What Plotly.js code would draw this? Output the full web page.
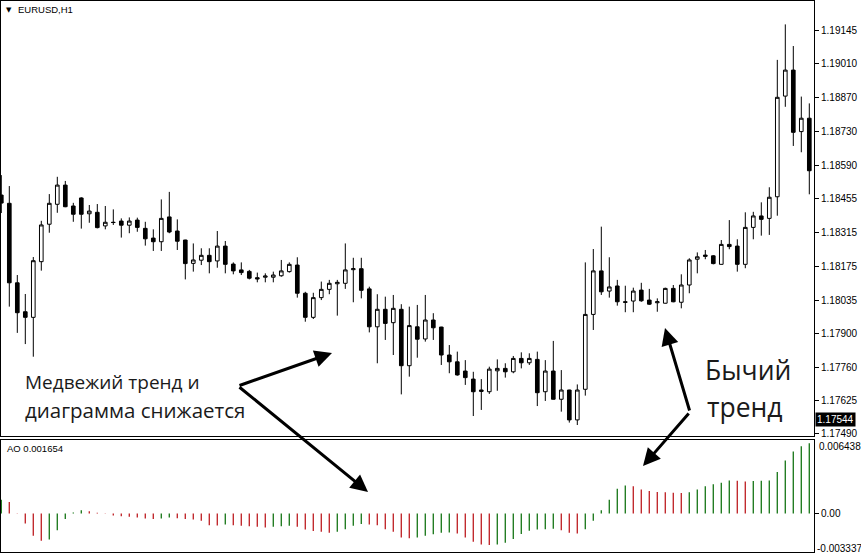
<!DOCTYPE html>
<html>
<head>
<meta charset="utf-8">
<script src="https://cdn.plot.ly/plotly-3.0.1.min.js"></script>
<style>html,body{margin:0;padding:0;background:#fff;}#chart{width:861px;height:553px;}</style>
</head>
<body>
<div id="chart"></div>
<script>
// ---- EURUSD H1 candles ----
const opens = [1.18469,1.18435,1.18108,1.17989,1.17966,1.18195,1.18349,1.18431,1.18510,1.18424,
1.18457,1.18392,1.18398,1.18342,1.18357,1.18362,1.18345,1.18366,1.18332,1.18292,
1.18277,1.18379,1.18321,1.18284,1.18188,1.18201,1.18221,1.18198,1.18259,1.18185,
1.18161,1.18155,1.18129,1.18131,1.18131,1.18137,1.18154,1.18181,1.18065,1.17966,
1.18047,1.18081,1.18104,1.18106,1.18162,1.18166,1.18083,1.17927,1.17999,1.17944,
1.17999,1.17767,1.17927,1.17877,1.17955,1.17926,1.17811,1.17783,1.17745,1.17712,
1.17661,1.17660,1.17746,1.17756,1.17742,1.17797,1.17779,1.17793,1.17660,1.17745,
1.17629,1.17667,1.17544,1.17670,1.17978,1.18157,1.18074,1.18095,1.18030,1.18033,
1.18078,1.18037,1.18026,1.18024,1.18085,1.18028,1.18099,1.18205,1.18222,1.18219,
1.18184,1.18266,1.18259,1.18184,1.18336,1.18383,1.18373,1.18462,1.18876,1.18983,
1.18730,1.18785];
const highs = [1.18551,1.18506,1.18140,1.18062,1.18214,1.18363,1.18473,1.18544,1.18527,1.18437,
1.18460,1.18428,1.18432,1.18424,1.18410,1.18373,1.18377,1.18376,1.18359,1.18328,
1.18451,1.18482,1.18369,1.18285,1.18270,1.18250,1.18250,1.18321,1.18280,1.18192,
1.18192,1.18161,1.18150,1.18147,1.18154,1.18202,1.18192,1.18213,1.18071,1.18067,
1.18113,1.18120,1.18120,1.18270,1.18211,1.18211,1.18092,1.18061,1.18051,1.18058,
1.18020,1.18010,1.18017,1.18058,1.17983,1.17927,1.17852,1.17825,1.17790,1.17742,
1.17712,1.17763,1.17793,1.17777,1.17807,1.17822,1.17818,1.17825,1.17790,1.17869,
1.17749,1.17668,1.17690,1.18192,1.18247,1.18339,1.18213,1.18120,1.18096,1.18088,
1.18108,1.18083,1.18044,1.18088,1.18099,1.18143,1.18209,1.18233,1.18243,1.18222,
1.18284,1.18366,1.18287,1.18398,1.18400,1.18439,1.18501,1.19025,1.19171,1.19082,
1.18874,1.18846];
const lows = [1.18395,1.18010,1.17902,1.17856,1.17804,1.18158,1.18314,1.18396,1.18419,1.18359,
1.18331,1.18355,1.18332,1.18328,1.18346,1.18294,1.18312,1.18318,1.18261,1.18239,
1.18239,1.18312,1.18243,1.18122,1.18154,1.18181,1.18147,1.18170,1.18147,1.18143,
1.18140,1.18122,1.18110,1.18110,1.18110,1.18133,1.18150,1.18047,1.17948,1.17959,
1.18037,1.18061,1.17973,1.18083,1.18028,1.18044,1.17904,1.17777,1.17873,1.17811,
1.17649,1.17722,1.17800,1.17866,1.17873,1.17770,1.17736,1.17726,1.17688,1.17560,
1.17585,1.17651,1.17664,1.17718,1.17736,1.17756,1.17770,1.17601,1.17622,1.17628,
1.17578,1.17533,1.17523,1.17644,1.17914,1.18058,1.18047,1.18014,1.17987,1.17987,
1.18030,1.18017,1.17989,1.18023,1.18028,1.18003,1.18065,1.18147,1.18205,1.18184,
1.18183,1.18246,1.18154,1.18168,1.18287,1.18302,1.18305,1.18384,1.18832,1.18671,
1.18645,1.18472];
const closes = [1.18436,1.18108,1.17985,1.17966,1.18199,1.18346,1.18435,1.18510,1.18421,1.18390,
1.18390,1.18403,1.18335,1.18357,1.18356,1.18345,1.18362,1.18336,1.18289,1.18277,
1.18373,1.18317,1.18279,1.18187,1.18202,1.18221,1.18195,1.18259,1.18184,1.18157,
1.18150,1.18127,1.18124,1.18136,1.18140,1.18157,1.18184,1.18065,1.17966,1.18047,
1.18081,1.18106,1.18110,1.18161,1.18166,1.18077,1.17927,1.17999,1.17941,1.18003,
1.17767,1.17932,1.17876,1.17955,1.17923,1.17811,1.17783,1.17729,1.17718,1.17660,
1.17667,1.17753,1.17756,1.17742,1.17797,1.17779,1.17797,1.17656,1.17745,1.17629,
1.17667,1.17544,1.17667,1.17978,1.18157,1.18071,1.18091,1.18030,1.18028,1.18074,
1.18034,1.18020,1.18030,1.18085,1.18030,1.18099,1.18202,1.18215,1.18217,1.18187,
1.18266,1.18257,1.18184,1.18336,1.18383,1.18369,1.18460,1.18871,1.18983,1.18727,
1.18785,1.18569];

// ---- Awesome Oscillator values ----
const aoValues = [0.00122,0.00102,0.00003,-0.00087,-0.00195,-0.00239,-0.00227,-0.00146,-0.00049,0.00009,
0.00029,0.00020,0.00006,-0.00003,-0.00017,-0.00023,-0.00029,-0.00035,-0.00044,-0.00049,
-0.00044,-0.00035,-0.00041,-0.00049,-0.00052,-0.00064,-0.00102,-0.00105,-0.00096,-0.00102,
-0.00108,-0.00111,-0.00116,-0.00122,-0.00116,-0.00111,-0.00108,-0.00116,-0.00140,-0.00154,
-0.00160,-0.00169,-0.00160,-0.00137,-0.00108,-0.00093,-0.00096,-0.00102,-0.00137,-0.00160,
-0.00210,-0.00218,-0.00210,-0.00195,-0.00183,-0.00169,-0.00166,-0.00175,-0.00210,-0.00247,
-0.00271,-0.00276,-0.00271,-0.00256,-0.00224,-0.00180,-0.00151,-0.00140,-0.00137,-0.00134,
-0.00146,-0.00169,-0.00175,-0.00137,-0.00064,0.00029,0.00122,0.00218,0.00247,0.00239,
0.00212,0.00198,0.00189,0.00186,0.00183,0.00180,0.00186,0.00210,0.00239,0.00256,
0.00271,0.00291,0.00288,0.00282,0.00285,0.00288,0.00291,0.00364,0.00466,0.00544,
0.00591,0.00617];

// ---- tick labels ----
const priceTicks = [1.19145,1.19010,1.18870,1.18730,1.18590,1.18455,1.18315,1.18175,1.18035,1.17900,1.17760,1.17625,1.17490];
const priceTickText = ["1.19145","1.19010","1.18870","1.18730","1.18590","1.18455","1.18315","1.18175","1.18035","1.17900","1.17760","1.17625","1.17490"];
const currentPrice = 1.17544;
const aoMax = "0.006438", aoMin = "-0.003337", aoCurrent = "AO 0.001654";
const symbolTitle = "EURUSD,H1";

const idx = opens.map((_, i) => i);
const timeTicks = idx.filter(i => i % 8 === 0);
const aoColors = aoValues.map((v, i) => (i === 0 || v >= aoValues[i - 1]) ? '#1f7a1f' : '#c0262b');

const W = 861, H = 553, ML = 1, MR = 47, MT = 1, MB = 1;
const PW = W - ML - MR, PH = H - MT - MB;
const px = x => (x - ML) / PW;
const py = y => (H - MB - y) / PH;

const tickFont = {family: 'Liberation Sans, Arial, sans-serif', size: 10, color: '#000'};
const noteFont = {family: 'Open Sans, Noto Sans, sans-serif', size: 19, color: '#1a1a1a'};
const noteFont2 = {family: 'Open Sans, Noto Sans, sans-serif', size: 20.5, color: '#1a1a1a'};
const bigFont = {family: 'Open Sans, Noto Sans, sans-serif', size: 26.5, color: '#1a1a1a'};

const traces = [
  {
    type: 'candlestick', x: idx, open: opens, high: highs, low: lows, close: closes,
    xaxis: 'x', yaxis: 'y', whiskerwidth: 0,
    increasing: {line: {color: '#000', width: 1}, fillcolor: '#ffffff'},
    decreasing: {line: {color: '#000', width: 1}, fillcolor: '#000000'},
    hoverinfo: 'skip'
  },
  {
    type: 'bar', x: idx, y: aoValues, xaxis: 'x2', yaxis: 'y2', width: 0.17,
    marker: {color: aoColors, line: {width: 0}}, hoverinfo: 'skip'
  }
];

function arrow(tipX, tipY, fromX, fromY) {
  return {xref: 'paper', yref: 'paper', x: px(tipX), y: py(tipY), axref: 'pixel', ayref: 'pixel',
    ax: fromX - tipX, ay: fromY - tipY, text: '', showarrow: true, arrowhead: 2, arrowsize: 1.15,
    arrowwidth: 3, arrowcolor: '#000', standoff: 0, startstandoff: 0};
}
function label(text, x, y, font, anchor) {
  return {xref: 'paper', yref: 'paper', x: px(x), y: py(y), text: text, showarrow: false,
    xanchor: anchor || 'left', yanchor: 'middle', font: font, align: 'left'};
}

const layout = {
  width: W, height: H, margin: {l: ML, r: MR, t: MT, b: MB, pad: 0},
  paper_bgcolor: '#fff', plot_bgcolor: '#fff', showlegend: false,
  boxgap: 0.35,
  xaxis: {domain: [0, 1], range: [-0.0375, 101.5875], anchor: 'y', showgrid: false, zeroline: false,
    showticklabels: false, ticks: '', showline: true, mirror: true, linecolor: '#000', linewidth: 1,
    rangeslider: {visible: false}, fixedrange: true},
  yaxis: {domain: [0.2105, 1], range: [1.174778, 1.192672], anchor: 'x', side: 'right',
    tickvals: priceTicks, ticktext: priceTickText, ticks: 'outside', ticklen: 4, tickcolor: '#000',
    tickfont: tickFont, showline: true, mirror: true, linecolor: '#000', linewidth: 1,
    showgrid: false, zeroline: false, fixedrange: true},
  xaxis2: {domain: [0, 1], range: [-0.0375, 101.5875], anchor: 'y2', showgrid: false, zeroline: false,
    showticklabels: false, tickvals: timeTicks, ticks: 'outside', ticklen: 4, tickcolor: '#000',
    showline: true, mirror: true, linecolor: '#000', linewidth: 1, fixedrange: true},
  yaxis2: {domain: [0, 0.204], range: [-0.003378, 0.006490], anchor: 'x2', side: 'right',
    tickvals: [0], ticktext: ['0.00'], ticks: 'outside', ticklen: 4, tickcolor: '#000',
    tickfont: tickFont, showline: true, mirror: true, linecolor: '#000', linewidth: 1,
    showgrid: false, zeroline: false, fixedrange: true},
  annotations: [
    label('▼', 4, 10, {family: 'DejaVu Sans, sans-serif', size: 7, color: '#000'}),
    label(symbolTitle, 16, 10, {family: 'Liberation Sans, Arial, sans-serif', size: 9.5, color: '#000'}),
    label(aoCurrent, 5, 448, {family: 'Liberation Sans, Arial, sans-serif', size: 9.5, color: '#000'}),
    label(aoMax, 817, 446, tickFont),
    label(aoMin, 815, 548, tickFont),
    {xref: 'paper', yref: 'y', x: 1, y: currentPrice, xanchor: 'left', yanchor: 'middle', xshift: 1,
      text: '1.17544', showarrow: false, bgcolor: '#000', borderpad: 1,
      font: {family: 'Liberation Sans, Arial, sans-serif', size: 10, color: '#fff'}},
    label('Медвежий тренд и', 23, 382, noteFont),
    label('диаграмма снижается', 23, 410, noteFont2),
    label('Бычий', 703, 370, bigFont),
    label('тренд', 705, 407, bigFont),
    arrow(332, 353, 238, 386),
    arrow(368, 492, 238, 386),
    arrow(665, 328, 690, 412),
    arrow(643, 466, 690, 412)
  ]
};

Plotly.newPlot('chart', traces, layout, {staticPlot: true, displayModeBar: false});
</script>
</body>
</html>
